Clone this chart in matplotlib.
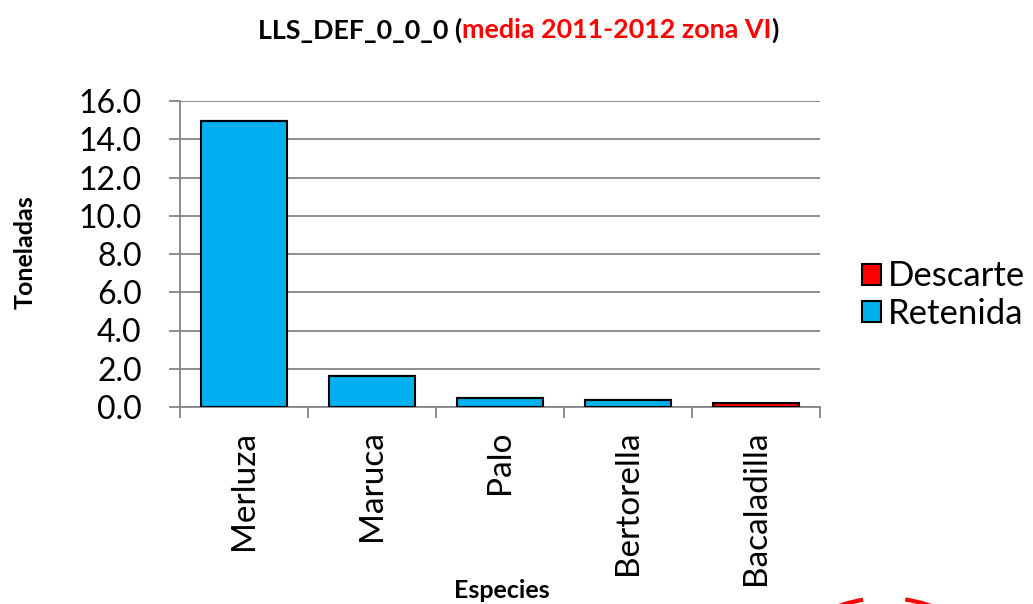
import matplotlib
matplotlib.use("Agg")
import matplotlib.pyplot as plt
import numpy as np
from matplotlib.patches import Arc

plt.rcParams["font.family"] = ["Lato", "DejaVu Sans"]

especies = ["Merluza", "Maruca", "Palo", "Bertorella", "Bacaladilla"]
retenida = [14.95, 1.63, 0.47, 0.36, 0.0]
descarte = [0.0, 0.0, 0.0, 0.0, 0.22]
y_ticks = [0, 2, 4, 6, 8, 10, 12, 14, 16]

azul = "#00B0F0"
rojo = "#FF0000"
gris = "#868686"

fig = plt.figure(figsize=(10.33, 6.04), dpi=100)
ax = fig.add_axes([180 / 1033, 1 - 407 / 604, 640 / 1033, 306 / 604])

x = np.arange(len(especies))
ax.bar(x, retenida, width=0.67, color=azul, edgecolor="black", linewidth=1.5,
       label="Retenida", zorder=3)
ax.bar(x, descarte, width=0.67, bottom=retenida, color=rojo, edgecolor="black",
       linewidth=1.5, label="Descarte", zorder=3)

ax.set_xlim(-0.5, len(especies) - 0.5)
ax.set_ylim(0, 16)
ax.set_yticks(y_ticks)
ax.set_yticklabels([f"{v:.1f}" for v in y_ticks], fontsize=23)
ax.yaxis.grid(True, color=gris, linewidth=1.3, zorder=0)
ax.set_axisbelow(True)

ax.set_xticks(x)
ax.set_xticklabels(especies, rotation=90, fontsize=24)
ax.tick_params(axis="x", length=0, pad=17)
ax.set_xticks(np.arange(-0.5, len(especies), 1.0), minor=True)
ax.tick_params(axis="x", which="minor", length=8, width=1.3, color=gris, direction="out")
ax.tick_params(axis="y", length=8, width=1.3, color=gris, direction="out", pad=19.5)

for s in ["top", "right"]:
    ax.spines[s].set_visible(False)
for s in ["left", "bottom"]:
    ax.spines[s].set_color(gris)
    ax.spines[s].set_linewidth(1.3)

fig.text(25 / 1033, 1 - 252 / 604, "Toneladas", fontsize=18, fontweight="bold",
         rotation=90, ha="center", va="center")
fig.text(502 / 1033, 1 - 590 / 604, "Especies", fontsize=18, fontweight="bold",
         ha="center", va="center")

# title with red middle part
t1 = fig.text(258 / 1033, 1 - 30 / 604, "LLS_DEF_0_0_0 (", fontsize=19.4,
              fontweight="bold", ha="left", va="center")
fig.canvas.draw()
r = fig.canvas.get_renderer()
bb = t1.get_window_extent(r)
t2 = fig.text(bb.x1 / 1033, 1 - 30 / 604, "media 2011-2012 zona VI", fontsize=19.4,
              fontweight="bold", color=rojo, ha="left", va="center")
bb2 = t2.get_window_extent(r)
fig.text(bb2.x1 / 1033, 1 - 30 / 604, ")", fontsize=19.4, fontweight="bold",
         ha="left", va="center")

h, l = ax.get_legend_handles_labels()
fig.legend(h[::-1], l[::-1], loc="center left", bbox_to_anchor=(862 / 1033, 1 - 295 / 604),
           frameon=False, fontsize=25, handlelength=0.55, handleheight=0.55,
           handletextpad=0.2, labelspacing=0.15, borderpad=0, borderaxespad=0)

# fragment of red logo at bottom right
for a1, a2 in [(95.4, 105.7), (74.3, 85.0)]:
    fig.add_artist(Arc((885 / 1033, -131 / 604), 274 / 1033, 274 / 604,
                       theta1=a1, theta2=a2, color=rojo, linewidth=3,
                       transform=fig.transFigure))

fig.savefig("out.png", dpi=100)
